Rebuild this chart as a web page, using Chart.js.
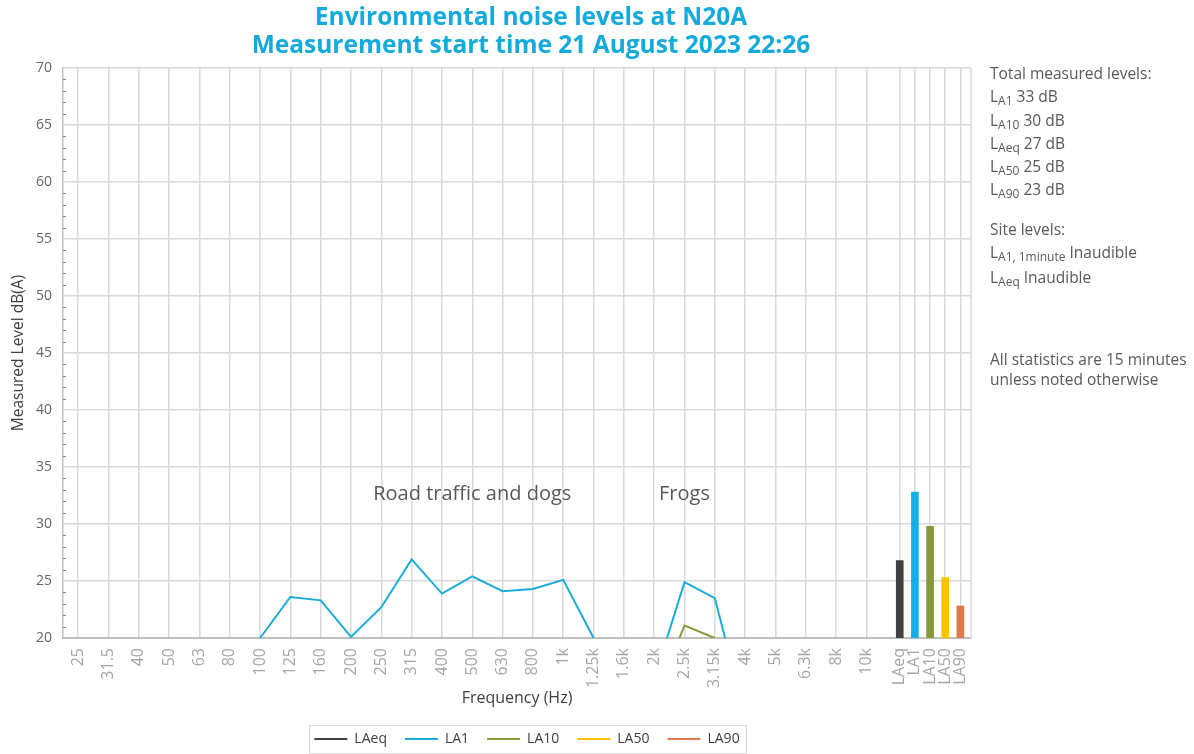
<!DOCTYPE html>
<html>
<head>
<meta charset="utf-8">
<script src="https://cdn.jsdelivr.net/npm/chart.js@4.4.0/dist/chart.umd.min.js"></script>
<style>
  html, body { margin: 0; padding: 0; background: #ffffff; }
  #wrap { width: 1194px; height: 754px; position: relative; }
</style>
</head>
<body>
<div id="wrap"><canvas id="noise"></canvas></div>
<script>
// third-octave bands on the x axis, then the overall statistics
const freqLabels = ['25', '31.5', '40', '50', '63', '80', '100', '125', '160', '200', '250', '315', '400', '500',
    '630', '800', '1k', '1.25k', '1.6k', '2k', '2.5k', '3.15k', '4k', '5k', '6.3k', '8k', '10k'];
const statLabels = ['LAeq', 'LA1', 'LA10', 'LA50', 'LA90'];

// spectrum levels dB(A), null = under the 20 dB floor of the chart
const laeqSpectrum = [null, null, null, null, null, null, null, null, null, null, null, null, null, null,
    null, null, null, null, null, null, null, null, null, null, null, null, null];
const la1Spectrum = [null, null, null, null, null, null, 20.0, 23.6, 23.3, 20.1, 22.7, 26.9, 23.9, 25.4,
    24.1, 24.3, 25.1, 20.0, null, 16.4, 24.9, 23.5, 13.2, null, null, null, null];
const la10Spectrum = [null, null, null, null, null, null, null, null, null, null, null, null, null, null,
    null, null, null, null, null, 14.5, 21.1, 20.0, null, null, null, null, null];
const la50Spectrum = [null, null, null, null, null, null, null, null, null, null, null, null, null, null,
    null, null, null, null, null, null, null, null, null, null, null, null, null];
const la90Spectrum = [null, null, null, null, null, null, null, null, null, null, null, null, null, null,
    null, null, null, null, null, null, null, null, null, null, null, null, null];

// overall levels (the bars at the right end)
const statTotals = [26.8, 32.8, 29.8, 25.3, 22.8];

const seriesNames = ['LAeq', 'LA1', 'LA10', 'LA50', 'LA90'];
const seriesColors = ['#404040', '#1aacd9', '#8a9a3c', '#ffc000', '#e07b4c'];
const barColors = ['#404040', '#12b0e6', '#86993a', '#ffc000', '#e07a48'];

// notes written inside the plot
const noteTexts = ['Road traffic and dogs', 'Frogs'];
const noteBands = ['500', '2.5k'];
const noteLevels = [32.6, 32.6];

// side panel text: [main, subscript, rest]
const totalsText = [['L', 'A1', ' 33 dB'], ['L', 'A10', ' 30 dB'], ['L', 'Aeq', ' 27 dB'], ['L', 'A50', ' 25 dB'], ['L', 'A90', ' 23 dB']];
const siteText = [['L', 'A1, 1minute', ' Inaudible'], ['L', 'Aeq', ' Inaudible']];

const titleLines = ['Environmental noise levels at N20A', 'Measurement start time 21 August 2023 22:26'];

function bandPos(i) { return i; }
function statPos(j) { return 27.1 + 0.5 * j; }

const tickPositions = freqLabels.map((l, i) => bandPos(i)).concat(statLabels.map((l, j) => statPos(j)));
const tickNames = freqLabels.concat(statLabels);

const spectra = [laeqSpectrum, la1Spectrum, la10Spectrum, la50Spectrum, la90Spectrum];

const datasets = spectra.map((values, s) => ({
    type: 'line',
    label: seriesNames[s],
    data: values.map((v, i) => ({ x: bandPos(i), y: v })),
    borderColor: seriesColors[s],
    backgroundColor: seriesColors[s],
    borderWidth: 2,
    pointRadius: 0,
    tension: 0,
    spanGaps: false,
    clip: 0
}));

datasets.push({
    type: 'bar',
    label: 'Totals',
    data: statTotals.map((v, j) => ({ x: statPos(j), y: v })),
    backgroundColor: barColors,
    barThickness: 7,
    clip: 0
});

const panelFont = '15.5px "Open Sans"';
const subFont = '12px "Open Sans"';

function drawSubText(ctx, x, y, parts) {
    ctx.font = panelFont;
    ctx.fillText(parts[0], x, y);
    x += ctx.measureText(parts[0]).width;
    ctx.font = subFont;
    ctx.fillText(parts[1], x, y + 4);
    x += ctx.measureText(parts[1]).width;
    ctx.font = panelFont;
    ctx.fillText(parts[2], x, y);
}

const extras = {
    id: 'extras',
    afterLayout(chart) {
        // legend sits a little right of the plot centre in the original
        chart.legend.left += 10;
        chart.legend.right += 10;
    },
    afterDraw(chart) {
        const ctx = chart.ctx;
        const area = chart.chartArea;
        const xs = chart.scales.x;
        const ys = chart.scales.y;
        ctx.save();

        // right border of the plot
        ctx.strokeStyle = '#d9d9d9';
        ctx.lineWidth = 1.5;
        ctx.beginPath();
        ctx.moveTo(area.right, area.top);
        ctx.lineTo(area.right, area.bottom);
        ctx.stroke();

        // minor ticks on the y axis
        ctx.strokeStyle = '#808080';
        ctx.lineWidth = 1;
        for (let v = 21; v < 70; v++) {
            if (v % 5 === 0) continue;
            const py = Math.round(ys.getPixelForValue(v)) + 0.5;
            ctx.beginPath();
            ctx.moveTo(area.left, py);
            ctx.lineTo(area.left + 3, py);
            ctx.stroke();
        }

        // title
        ctx.fillStyle = '#14aadc';
        ctx.font = 'bold 24.5px "Open Sans"';
        ctx.textAlign = 'center';
        ctx.textBaseline = 'middle';
        ctx.fillText(titleLines[0], 531, 18);
        ctx.fillText(titleLines[1], 531, 46);

        // notes in the plot
        ctx.fillStyle = '#595959';
        ctx.font = '20px "Open Sans"';
        for (let i = 0; i < noteTexts.length; i++) {
            const px = xs.getPixelForValue(bandPos(freqLabels.indexOf(noteBands[i])));
            const py = ys.getPixelForValue(noteLevels[i]);
            ctx.fillText(noteTexts[i], px, py);
        }

        // side panel
        ctx.textAlign = 'left';
        ctx.fillStyle = '#595959';
        const px = area.right + 19;
        ctx.font = panelFont;
        ctx.fillText('Total measured levels:', px, 75);
        totalsText.forEach((t, k) => drawSubText(ctx, px, 98 + 23.2 * k, t));
        ctx.font = panelFont;
        ctx.fillText('Site levels:', px, 231);
        siteText.forEach((t, k) => drawSubText(ctx, px, 254 + 25 * k, t));
        ctx.font = panelFont;
        ctx.fillText('All statistics are 15 minutes', px, 361);
        ctx.fillText('unless noted otherwise', px, 381);

        // box round the legend
        const boxes = chart.legend.legendHitBoxes;
        if (boxes && boxes.length) {
            const left = Math.min(...boxes.map(b => b.left)) - 5;
            const right = Math.max(...boxes.map(b => b.left + b.width)) + 7;
            const top = boxes[0].top - 7;
            const h = boxes[0].height + 14;
            ctx.strokeStyle = '#d9d9d9';
            ctx.lineWidth = 1;
            ctx.strokeRect(Math.round(left) + 0.5, Math.round(top) + 0.5, Math.round(right - left), Math.round(h));
        }
        ctx.restore();
    }
};

Chart.defaults.font.family = '"Open Sans", sans-serif';

new Chart(document.getElementById('noise'), {
    type: 'line',
    data: { datasets: datasets },
    plugins: [extras],
    options: {
        responsive: true,
        maintainAspectRatio: false,
        animation: false,
        layout: { padding: { left: 0, right: 223, top: 68, bottom: -2 } },
        scales: {
            x: {
                type: 'linear',
                min: -0.5,
                max: 29.45,
                offset: false,
                afterBuildTicks: scale => {
                    scale.ticks = tickPositions.map(v => ({ value: v }));
                },
                afterFit: scale => { scale.height = 76; },
                ticks: {
                    autoSkip: false,
                    minRotation: 90,
                    maxRotation: 90,
                    padding: 10,
                    color: '#a6a6a6',
                    font: { size: 16 },
                    callback: (value, index) => tickNames[index]
                },
                grid: { color: '#d9d9d9', lineWidth: 1.5, drawTicks: false, offset: false },
                border: { display: true, color: '#bfbfbf', width: 2 },
                title: {
                    display: true,
                    text: 'Frequency (Hz)',
                    color: '#404040',
                    font: { size: 16 },
                    padding: { top: 4, bottom: 6 }
                }
            },
            y: {
                min: 20,
                max: 70,
                afterFit: scale => { scale.width = 63; },
                ticks: {
                    stepSize: 5,
                    padding: 11,
                    color: '#666666',
                    font: { size: 14 }
                },
                grid: {
                    color: ctx => ctx.tick && ctx.tick.value === 20 ? '#bfbfbf' : '#d9d9d9',
                    lineWidth: 1.5,
                    drawTicks: false
                },
                border: { display: true, color: '#bfbfbf', width: 1.5 },
                title: {
                    display: true,
                    text: 'Measured Level dB(A)',
                    color: '#404040',
                    font: { size: 15.5 },
                    padding: { top: 9, bottom: 0 }
                }
            }
        },
        plugins: {
            title: { display: false },
            tooltip: { enabled: false },
            legend: {
                position: 'bottom',
                fullSize: false,
                labels: {
                    filter: item => item.datasetIndex < 5,
                    usePointStyle: true,
                    pointStyle: 'line',
                    pointStyleWidth: 33,
                    padding: 18,
                    color: '#404040',
                    font: { size: 14 }
                }
            }
        }
    }
});
</script>
</body>
</html>
